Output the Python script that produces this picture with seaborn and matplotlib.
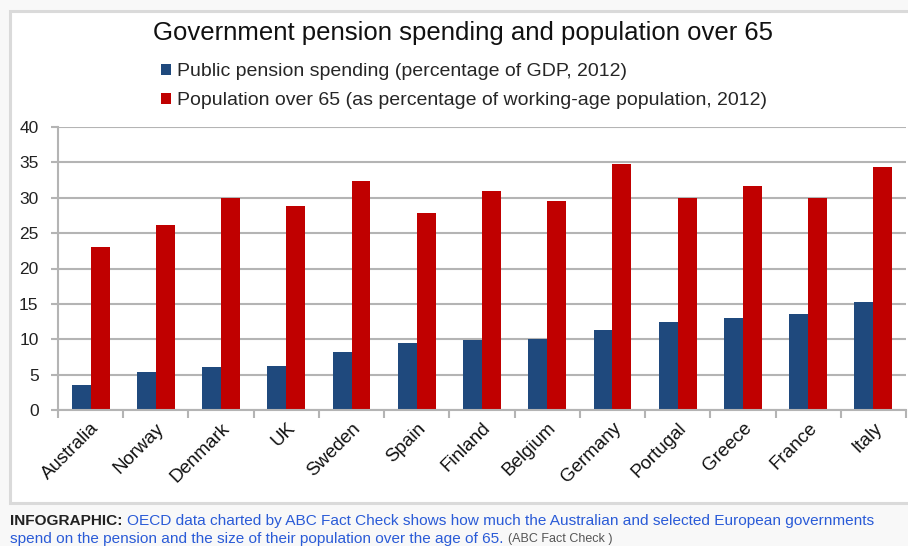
import pandas as pd
import numpy as np
import matplotlib
matplotlib.use('Agg')
import matplotlib.pyplot as plt
import seaborn as sns
from matplotlib.patches import Rectangle

# DATA

countries = ['Australia', 'Norway', 'Denmark', 'UK', 'Sweden', 'Spain', 'Finland',
             'Belgium', 'Germany', 'Portugal', 'Greece', 'France', 'Italy']
pension_spending = [3.5, 5.4, 6.1, 6.2, 8.2, 9.4, 9.9, 10.0, 11.3, 12.4, 13.0, 13.6, 15.3]
population_65 = [23.1, 26.1, 30.0, 28.9, 32.4, 27.9, 30.9, 29.6, 34.7, 30.0, 31.6, 29.9, 34.4]

series_names = ['Public pension spending (percentage of GDP, 2012)',
                'Population over 65 (as percentage of working-age population, 2012)']
series_colors = ['#1f497d', '#c00000']
y_ticks = [0, 5, 10, 15, 20, 25, 30, 35, 40]

df = pd.DataFrame({
    'country': countries * 2,
    'value': pension_spending + population_65,
    'series': [series_names[0]] * len(countries) + [series_names[1]] * len(countries),
})

# PLOT

sns.set_style('white')
plt.rcParams['font.family'] = ['Liberation Sans', 'DejaVu Sans']

fig = plt.figure(figsize=(9.08, 5.46), dpi=100, facecolor='#f8f8f8')
W, H = 908, 546

# white chart frame, drawn behind the axes
fig.patches.append(Rectangle((10 / W, 1 - 503 / H), 0.995, (503 - 11) / H,
                             transform=fig.transFigure, facecolor='white',
                             edgecolor='#dadada', linewidth=2.2, zorder=-10))

ax = fig.add_axes([58 / W, 1 - 410 / H, (906 - 58) / W, (410 - 127) / H])
ax.set_facecolor('white')

sns.barplot(data=df, x='country', y='value', hue='series', hue_order=series_names,
            palette=series_colors, width=0.58, gap=0, saturation=1,
            edgecolor='none', ax=ax, legend=True)

ax.set_ylim(0, 40)
ax.set_xlim(-0.5, len(countries) - 0.5)
ax.set_yticks(y_ticks)
ax.set_xlabel('')
ax.set_ylabel('')
ax.yaxis.grid(True, color='#b4b4b4', linewidth=1.5)
ax.set_axisbelow(True)

for side in ['top', 'right']:
    ax.spines[side].set_visible(False)
for side in ['left', 'bottom']:
    ax.spines[side].set_color('#b4b4b4')
    ax.spines[side].set_linewidth(1.5)

ax.tick_params(axis='y', length=5, width=1.5, color='#b4b4b4', labelsize=12.5,
               labelcolor='#222222', pad=9, left=True)
ax.tick_params(axis='x', which='major', length=0, labelsize=13.5,
               labelcolor='#111111', pad=7)
ax.set_xticks(np.arange(-0.5, len(countries), 1), minor=True)
ax.tick_params(axis='x', which='minor', length=6, width=1.5, color='#b4b4b4', bottom=True)
plt.setp(ax.get_xticklabels(), rotation=45, ha='right', va='top',
         rotation_mode='anchor')

fig.text(463 / W, 1 - 33 / H, 'Government pension spending and population over 65',
         ha='center', va='center', fontsize=18.5, color='#111111')

handles, labels = ax.get_legend_handles_labels()
ax.legend(handles, labels, loc='upper left', bbox_to_anchor=(161 / W, 1 - 63 / H),
          bbox_transform=fig.transFigure, frameon=False, fontsize=14,
          handlelength=0.5, handleheight=0.5, handletextpad=0.3,
          labelspacing=0.62, borderaxespad=0, borderpad=0)

# caption below the frame
fig.canvas.draw()
renderer = fig.canvas.get_renderer()


def put(x_px, y_px, s, **kw):
    t = fig.text(x_px / W, 1 - y_px / H, s, ha='left', va='center', **kw)
    bb = t.get_window_extent(renderer)
    return bb.x1


x = put(10, 521, 'INFOGRAPHIC: ', fontsize=11.1, weight='bold', color='#222222')
put(x, 521, 'OECD data charted by ABC Fact Check shows how much the Australian and '
    'selected European governments', fontsize=11.1, color='#2a5bd7')
x = put(10, 539, 'spend on the pension and the size of their population over the age of 65. ',
        fontsize=11.1, color='#2a5bd7')
put(x, 539, '(ABC Fact Check )', fontsize=9, color='#555555')

fig.savefig('out.png', dpi=100, facecolor=fig.get_facecolor())
